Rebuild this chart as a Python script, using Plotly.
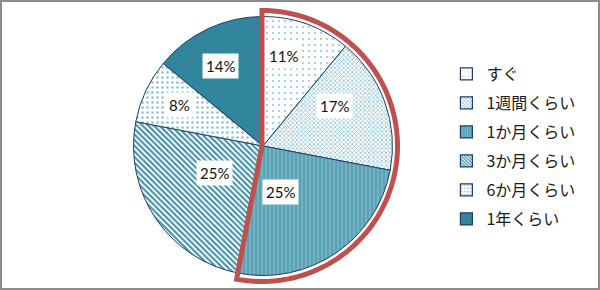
import math
import plotly.graph_objects as go

# ---- data ----
labels = ["すぐ", "1週間くらい", "1か月くらい", "3か月くらい", "6か月くらい", "1年くらい"]
values = [11, 17, 25, 25, 8, 14]
highlight_count = 3  # first three slices outlined in red

# ---- styles ----
bg_colors = ["#ffffff", "#ffffff", "#5aa3b6", "#ffffff", "#ffffff", "#31859c"]
fg_colors = ["#a6d2de", "#8dc2d2", "#86bccb", "#3a8ca5", "#8ac3d3", "#31859c"]
shapes_p = [".", "x", "|", "\\", ".", ""]
sizes_p = [6, 3, 4, 4, 5, 6]
solid_p = [0.12, 0.45, 0.3, 0.5, 0.22, 0.3]
edge = "#1f3a6e"
label_r = [0.81, 0.63, 0.38, 0.43, 0.82, 0.79]
label_shift = [-8.8, -9.2, 13.9, 4.8, -2.5, 0.4]  # degrees

W, H = 600, 290
cx, cy, R = 263, 146, 129.5

fig = go.Figure()
fig.add_trace(go.Pie(
    labels=labels, values=values, sort=False, direction="clockwise", rotation=0,
    textinfo="none", hoverinfo="skip", showlegend=False,
    domain=dict(x=[(cx - R) / W, (cx + R) / W], y=[1 - (cy + R) / H, 1 - (cy - R) / H]),
    marker=dict(colors=bg_colors, line=dict(color=edge, width=1),
                pattern=dict(shape=shapes_p, fgcolor=fg_colors, bgcolor=bg_colors,
                             size=sizes_p, solidity=solid_p, fillmode="replace")),
))

# legend entries via empty bar traces (one group each for spacing)
for i, lab in enumerate(labels):
    fig.add_trace(go.Bar(
        x=[None], y=[None], name=lab, legendgroup=f"g{i}", showlegend=True,
        marker=dict(color=bg_colors[i], line=dict(color=edge, width=1.2),
                    pattern=dict(shape=shapes_p[i], fgcolor=fg_colors[i], bgcolor=bg_colors[i],
                                 size=max(3, sizes_p[i] - 1), solidity=solid_p[i], fillmode="replace")),
    ))

total = sum(values)
annotations = []
cum = 0
for i, v in enumerate(values):
    mid = (cum + v / 2) / total * 360 + label_shift[i]
    cum += v
    r = label_r[i] * R
    px = cx + r * math.sin(math.radians(mid))
    py = cy - r * math.cos(math.radians(mid))
    annotations.append(dict(
        x=px / W, y=1 - py / H, xref="paper", yref="paper", showarrow=False,
        text=f"{round(v / total * 100)}%", bgcolor="white", borderpad=3,
        font=dict(family="Lato, Noto Sans", size=15, color="#111111"),
    ))

# red outline around highlighted slices
frac = sum(values[:highlight_count]) / total
Rr = R + 6
pts = [(cx - 1, cy)]
n = 80
for k in range(n + 1):
    a = math.radians(frac * 360 * k / n)
    pts.append((cx - 1 + Rr * math.sin(a), cy - Rr * math.cos(a)))
path = "M " + " L ".join(f"{x / W:.5f},{1 - y / H:.5f}" for x, y in pts) + " Z"

shapes = [
    dict(type="path", xref="paper", yref="paper", path=path,
         line=dict(color="#c0504d", width=5), fillcolor="rgba(0,0,0,0)", layer="above"),
    dict(type="rect", xref="paper", yref="paper", x0=0, x1=1, y0=0, y1=1,
         line=dict(color="#8c8c8c", width=4), fillcolor="rgba(0,0,0,0)"),
]

fig.update_layout(
    width=W, height=H, margin=dict(l=0, r=0, t=0, b=0),
    paper_bgcolor="white", plot_bgcolor="white",
    xaxis=dict(visible=False), yaxis=dict(visible=False),
    annotations=annotations, shapes=shapes,
    legend=dict(x=0.744, y=1 - 57 / H, xanchor="left", yanchor="top",
                font=dict(family="Noto Sans CJK JP", size=16, color="#1a1a1a"),
                tracegroupgap=5.2, traceorder="grouped", bgcolor="rgba(0,0,0,0)"),
)

fig.write_html("out.html")
